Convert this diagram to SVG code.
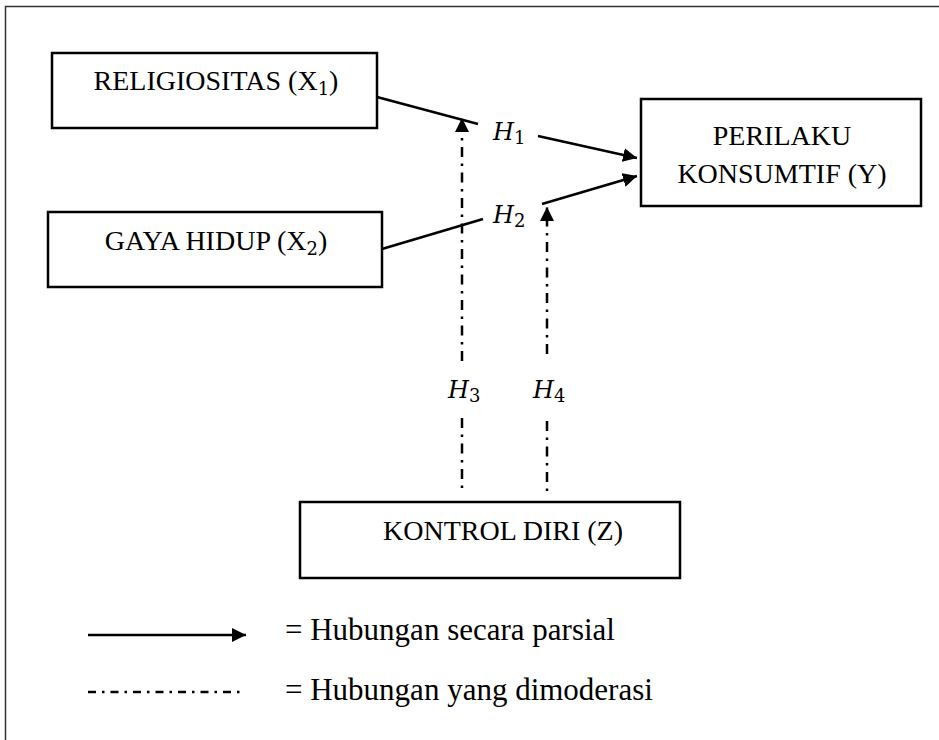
<svg xmlns="http://www.w3.org/2000/svg" width="939" height="740" viewBox="0 0 939 740">
<style>
.box{fill:#fff;stroke:#000;stroke-width:2.5}
.t{font-family:"Liberation Serif","Times New Roman",serif;font-size:28px;fill:#000}
.lg{font-family:"Liberation Serif","Times New Roman",serif;font-size:31px;fill:#000}
.h{font-family:"DejaVu Serif","Liberation Serif",serif;font-style:italic;font-size:24px;fill:#000}
.sub{font-family:"DejaVu Serif","Liberation Serif",serif;font-style:normal;font-size:18px}
.solid{stroke:#000;stroke-width:2.5;fill:none}
.dd{stroke:#000;stroke-width:2.5;fill:none;stroke-dasharray:10 6.5 2.5 6.5}
.ddl{stroke:#000;stroke-width:2.5;fill:none;stroke-dasharray:8 6 2.5 6}
</style>
<defs>
<marker id="ah" viewBox="0 0 10 10" refX="10" refY="5" markerWidth="5.6" markerHeight="5.6" markerUnits="strokeWidth" orient="auto">
<path d="M0,0 L10,5 L0,10 z" fill="#000"/>
</marker>
</defs>
<rect x="5.5" y="6.5" width="940" height="740" fill="none" stroke="#333" stroke-width="1.5"/>
<g id="x1">
<rect class="box" x="52" y="53" width="325" height="75"/>
<text class="t" x="216" y="90" text-anchor="middle">RELIGIOSITAS (X<tspan class="sub" dy="5">1</tspan><tspan dy="-5">)</tspan></text>
</g>
<g id="x2">
<rect class="box" x="48" y="212" width="334" height="75"/>
<text class="t" x="216" y="250" text-anchor="middle">GAYA HIDUP (X<tspan class="sub" dy="5">2</tspan><tspan dy="-5">)</tspan></text>
</g>
<g id="y">
<rect class="box" x="641" y="99" width="280" height="107"/>
<text class="t" x="782" y="145" text-anchor="middle">PERILAKU</text>
<text class="t" x="782" y="183" text-anchor="middle">KONSUMTIF (Y)</text>
</g>
<g id="z">
<rect class="box" x="300" y="502" width="380" height="76"/>
<text class="t" x="383" y="540">KONTROL DIRI (Z)</text>
</g>
<g id="connectors">
<line class="solid" x1="377" y1="97" x2="478" y2="124"/>
<line class="solid" x1="538" y1="136" x2="637" y2="158" marker-end="url(#ah)"/>
<line class="solid" x1="382" y1="249" x2="483" y2="219"/>
<line class="solid" x1="542" y1="204" x2="637" y2="176" marker-end="url(#ah)"/>
<line class="dd" x1="462" y1="361" x2="462" y2="118" marker-end="url(#ah)"/>
<line class="dd" x1="547" y1="354" x2="547" y2="207" marker-end="url(#ah)"/>
<line class="dd" x1="462" y1="418" x2="462" y2="491"/>
<line class="dd" x1="547" y1="421" x2="547" y2="491"/>
</g>
<g id="labels">
<text class="h" x="493" y="140">H<tspan class="sub" dy="4">1</tspan></text>
<text class="h" x="493" y="223">H<tspan class="sub" dy="4">2</tspan></text>
<text class="h" x="448" y="398">H<tspan class="sub" dy="4">3</tspan></text>
<text class="h" x="533" y="398">H<tspan class="sub" dy="4">4</tspan></text>
</g>
<g id="legend">
<line class="solid" x1="88" y1="635" x2="246" y2="635" marker-end="url(#ah)"/>
<text class="lg" x="285" y="640">= Hubungan secara parsial</text>
<line class="ddl" x1="88" y1="692" x2="245" y2="692"/>
<text class="lg" x="285" y="700">= Hubungan yang dimoderasi</text>
</g>
</svg>
